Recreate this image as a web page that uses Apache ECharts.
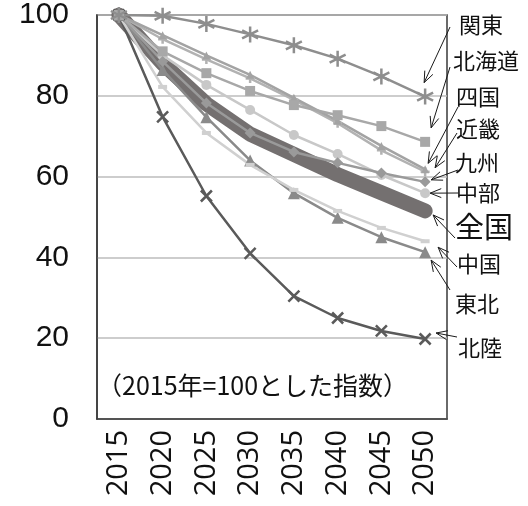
<!DOCTYPE html>
<html><head><meta charset="utf-8">
<script src="https://cdn.jsdelivr.net/npm/echarts@6/dist/echarts.min.js"></script>
<style>html,body{margin:0;padding:0;background:#fff}#c{width:528px;height:506px}</style>
</head><body><div id="c"></div>
<script>
// 地域別の指数推移（2015年=100）
const years = ['2015', '2020', '2025', '2030', '2035', '2040', '2045', '2050'];
const yTicks = [0, 20, 40, 60, 80, 100];

const kanto    = [100, 99.8, 97.8, 95.2, 92.5, 89.2, 84.8, 79.8];
const hokkaido = [100, 91.0, 85.6, 81.2, 77.7, 75.2, 72.5, 68.6];
const shikoku  = [100, 95.0, 90.0, 85.2, 79.5, 73.8, 67.6, 61.8];
const kinki    = [100, 94.0, 89.0, 84.3, 79.0, 73.2, 66.5, 61.2];
const kyushu   = [100, 88.5, 78.2, 70.8, 66.1, 63.4, 60.9, 58.7];
const chubu    = [100, 90.0, 82.7, 76.5, 70.3, 65.6, 60.4, 55.9];
const zenkoku  = [100, 88.0, 78.0, 70.5, 65.5, 60.5, 56.0, 51.5];
const chugoku  = [100, 82.2, 70.8, 62.9, 56.7, 51.5, 47.3, 44.0];
const tohoku   = [100, 86.4, 74.7, 64.0, 55.9, 49.8, 45.0, 41.3];
const hokuriku = [100, 74.8, 55.2, 41.0, 30.4, 25.0, 21.8, 19.8];

const note = '（2015年=100とした指数）';

const JP = '"Noto Sans CJK JP", "Noto Sans", sans-serif';
const ASTER = 'path://M0,-10L0,10M-8.6,-5L8.6,5M-8.6,5L8.6,-5';
const CROSS = 'path://M-1,-1L1,1M-1,1L1,-1';
const PLUS = 'path://M-1,0L1,0M0,-1L0,1';

function line(name, data, color, symbol, size, extra) {
  return Object.assign({
    name, type: 'line', data,
    symbol, symbolSize: size, showSymbol: true,
    lineStyle: { color, width: 2.5 },
    itemStyle: { color, borderColor: color, borderWidth: 0 },
    emphasis: { disabled: true },
    animation: false, z: 3
  }, extra || {});
}

// 描画順：全国（太線）を最背面、関東を最前面に
const series = [
  line('全国', zenkoku, '#747070', 'none', 0, {
    lineStyle: { color: '#747070', width: 15, cap: 'round', join: 'round' }, z: 2
  }),
  line('北陸', hokuriku, '#5a5a5a', CROSS, 11, { itemStyle: { color: 'none', borderColor: '#5a5a5a', borderWidth: 2.5 } }),
  line('東北', tohoku, '#8a8a8a', 'triangle', 12),
  line('中国', chugoku, '#d0d0d0', 'rect', [9, 4]),
  line('中部', chubu, '#c8c8c8', 'circle', 10),
  line('九州', kyushu, '#9a9a9a', 'diamond', 11),
  line('近畿', kinki, '#b2b2b2', PLUS, 9, { itemStyle: { color: 'none', borderColor: '#b2b2b2', borderWidth: 2.5 } }),
  line('四国', shikoku, '#a3a3a3', 'triangle', 8),
  line('北海道', hokkaido, '#a8a8a8', 'rect', 10),
  line('関東', kanto, '#8e8e8e', ASTER, 16, { itemStyle: { color: 'none', borderColor: '#8e8e8e', borderWidth: 2.5 } })
];

// 右側の地域ラベル：文字位置と矢印の起点、矢印先端のずれ
const labels = [
  { name: '関東',   x: 481, y: 25,  fs: 22, from: [450, 27],  off: [-1, -14] },
  { name: '北海道', x: 486, y: 61,  fs: 22, from: [450, 67],  off: [6, -14] },
  { name: '四国',   x: 478, y: 97,  fs: 22, from: [458, 107], off: [3, -6] },
  { name: '近畿',   x: 478, y: 129, fs: 22, from: [457, 133], off: [10, -4] },
  { name: '九州',   x: 477, y: 163, fs: 22, from: [458, 170], off: [6, -2] },
  { name: '中部',   x: 478, y: 193, fs: 22, from: [458, 193], off: [5, 0] },
  { name: '全国',   x: 484, y: 227, fs: 29, from: [455, 238], off: [8, 4] },
  { name: '中国',   x: 479, y: 264, fs: 22, from: [457, 267], off: [13, 6] },
  { name: '東北',   x: 477, y: 304, fs: 22, from: [450, 290], off: [6, 8] },
  { name: '北陸',   x: 480, y: 348, fs: 22, from: [457, 337], off: [11, -6] }
];

const chart = echarts.init(document.getElementById('c'), null, { renderer: 'canvas' });

const option = {
  animation: false,
  backgroundColor: '#fff',
  grid: { left: 97, right: 81, top: 15, bottom: 87, show: true, borderColor: '#3a3a3a', borderWidth: 1.5, backgroundColor: 'transparent', containLabel: false },
  xAxis: {
    type: 'category', data: years, boundaryGap: true,
    axisLine: { show: true, lineStyle: { color: '#3a3a3a', width: 1.5 } },
    axisTick: { show: false },
    axisLabel: { rotate: 90, fontSize: 29, color: '#111', fontFamily: '"Open Sans", sans-serif', margin: 11 },
    splitLine: { show: false }
  },
  yAxis: {
    type: 'value', min: yTicks[0], max: yTicks[yTicks.length - 1], interval: 20,
    axisLine: { show: true, lineStyle: { color: '#3a3a3a', width: 1.5 } },
    axisTick: { show: false },
    axisLabel: { fontSize: 30, color: '#111', fontFamily: '"Liberation Sans", Arial, sans-serif', margin: 28 },
    splitLine: { show: true, lineStyle: { color: '#bdbdbd', width: 1.5 } }
  },
  series
};
chart.setOption(option);

function arrowEls() {
  const els = [];
  labels.forEach((lb) => {
    const s = series.find((d) => d.name === lb.name);
    const last = s.data.length - 1;
    const p = chart.convertToPixel({ seriesName: lb.name }, [last, s.data[last]]);
    const tip = [p[0] + lb.off[0], p[1] + lb.off[1]];
    const from = lb.from;
    const ang = Math.atan2(from[1] - tip[1], from[0] - tip[0]);
    const L = 12, a = 0.38;
    const h1 = [tip[0] + L * Math.cos(ang + a), tip[1] + L * Math.sin(ang + a)];
    const h2 = [tip[0] + L * Math.cos(ang - a), tip[1] + L * Math.sin(ang - a)];
    els.push({ type: 'polyline', shape: { points: [from, tip] }, style: { stroke: '#1a1a1a', lineWidth: 1, fill: null }, z: 10 });
    els.push({ type: 'polyline', shape: { points: [h1, tip, h2] }, style: { stroke: '#1a1a1a', lineWidth: 1, fill: null }, z: 10 });
    els.push({ type: 'text', x: lb.x, y: lb.y, style: { text: lb.name, fontSize: lb.fs, fontFamily: JP, fill: '#111', align: 'center', verticalAlign: 'middle' }, z: 11 });
  });
  els.push({ type: 'text', x: 97, y: 385, style: { text: note, fontSize: 25, fontFamily: JP, fill: '#111', align: 'left', verticalAlign: 'middle' }, z: 11 });
  return els;
}

chart.setOption({ graphic: { elements: arrowEls() } });
</script></body></html>
